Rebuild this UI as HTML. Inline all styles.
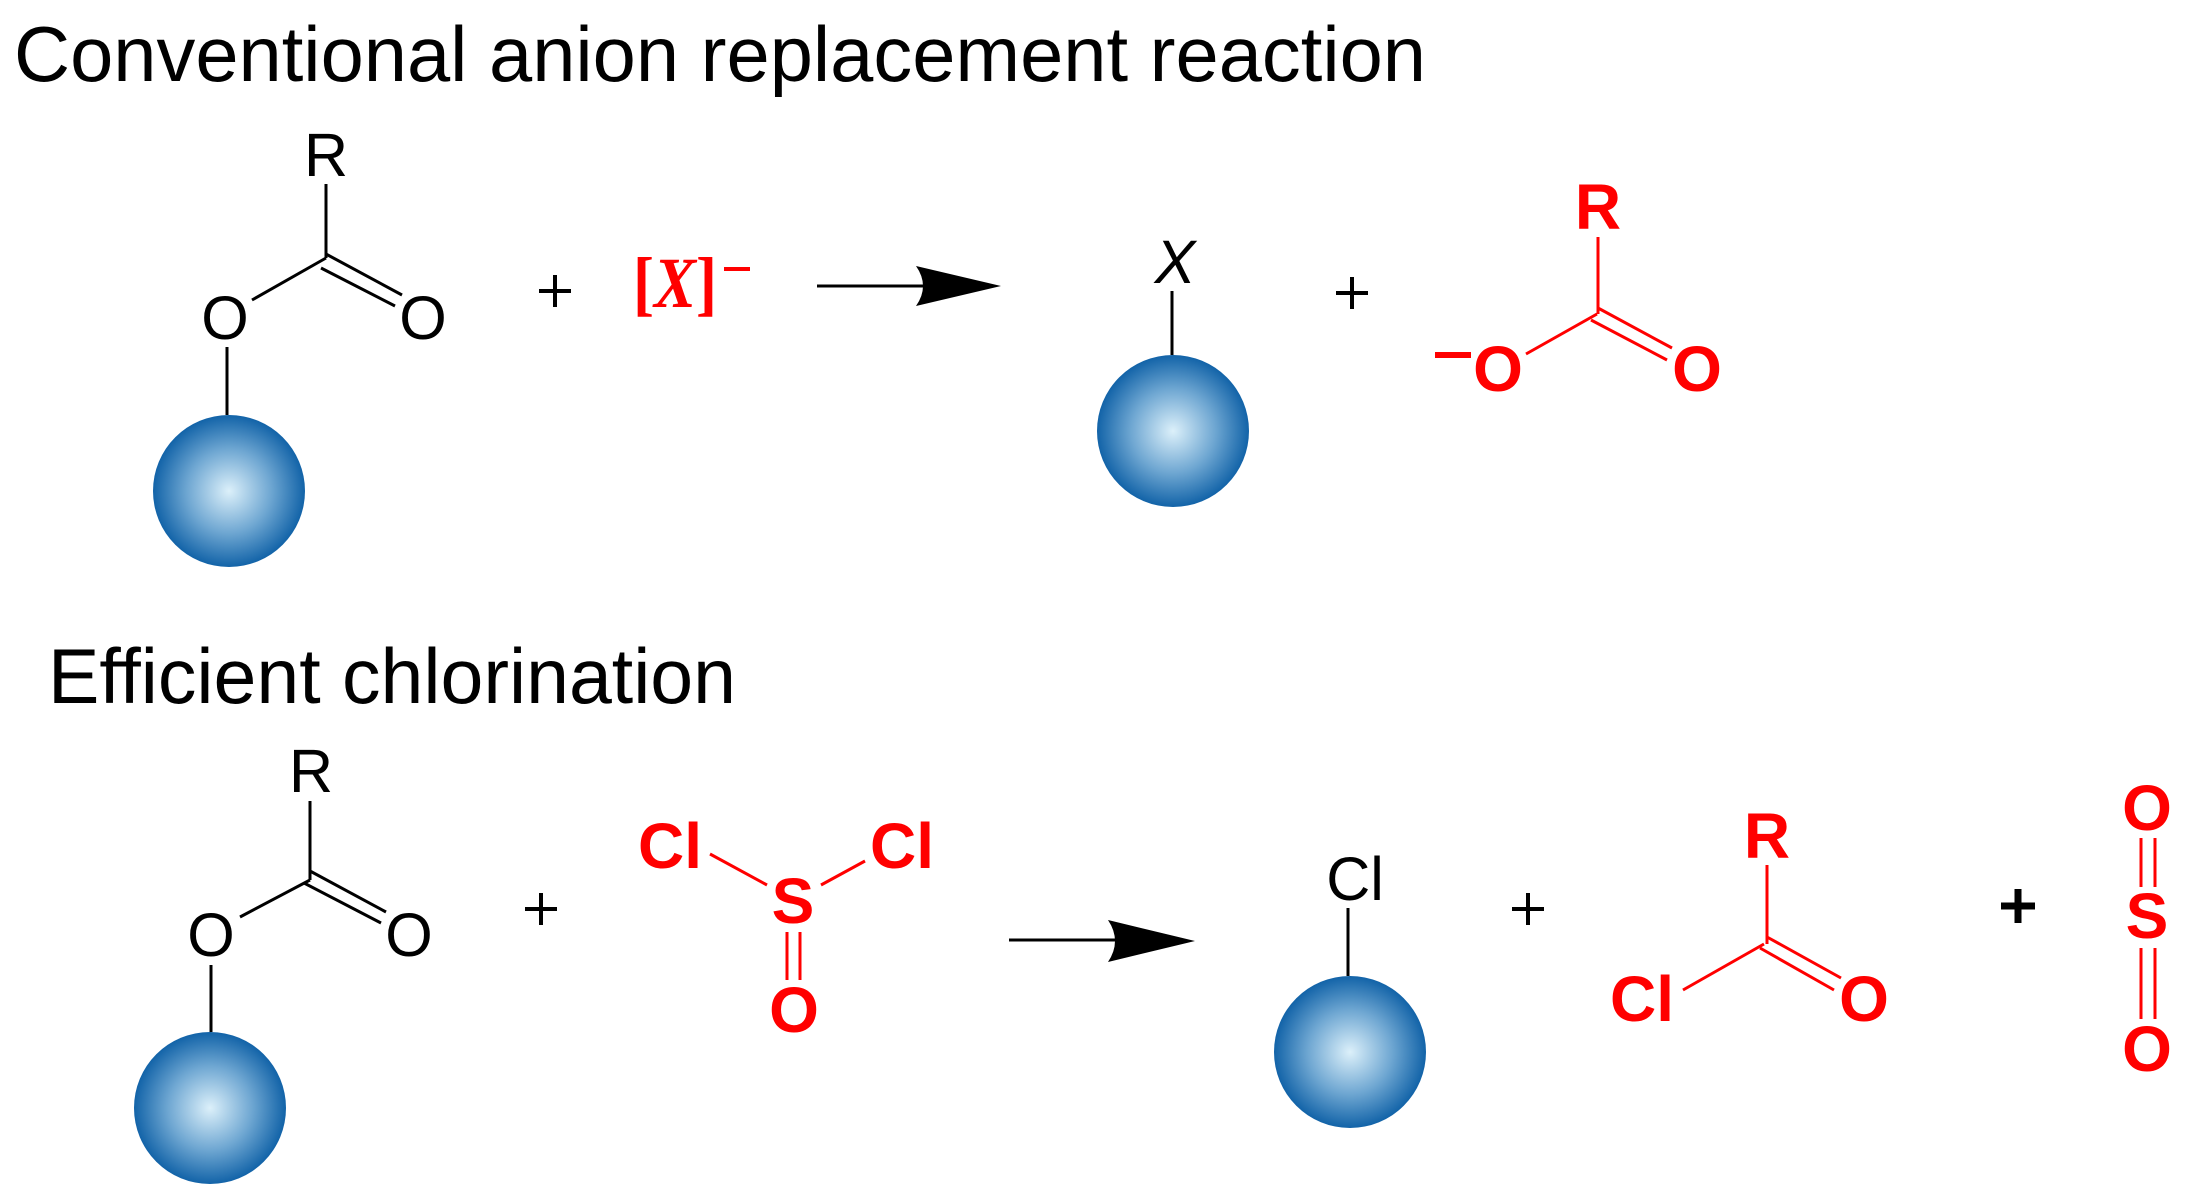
<!DOCTYPE html>
<html><head><meta charset="utf-8"><style>html,body{margin:0;padding:0;background:#fff}svg{display:block}</style></head>
<body>
<svg width="2210" height="1203" viewBox="0 0 2210 1203" xmlns="http://www.w3.org/2000/svg">
<defs>
<radialGradient id="g" cx="50%" cy="50%" r="50%">
<stop offset="0" stop-color="#dcf0fa"/><stop offset="0.55" stop-color="#6fa7d2"/><stop offset="1" stop-color="#1263a8"/>
</radialGradient>
</defs>
<g font-family="Liberation Sans, sans-serif">
<text x="14" y="81" font-size="78" textLength="1412" lengthAdjust="spacingAndGlyphs">Conventional anion replacement reaction</text>
<text x="48" y="703" font-size="78" textLength="688" lengthAdjust="spacingAndGlyphs">Efficient chlorination</text>

<g stroke="#000" stroke-width="3" fill="none">
<line x1="326" y1="184" x2="326" y2="258"/>
<line x1="326" y1="258" x2="252" y2="300"/>
<line x1="326" y1="254" x2="402" y2="295"/>
<line x1="321" y1="268" x2="395" y2="306"/>
<line x1="227" y1="347" x2="227" y2="415"/>
<line x1="817" y1="286" x2="930" y2="286"/>
<line x1="1172" y1="291" x2="1172" y2="355"/>
<line x1="310" y1="801" x2="310" y2="880"/>
<line x1="310" y1="880" x2="240" y2="917"/>
<line x1="310" y1="871" x2="386" y2="912"/>
<line x1="304" y1="883" x2="381" y2="923"/>
<line x1="211" y1="965" x2="211" y2="1032"/>
<line x1="1009" y1="940" x2="1120" y2="940"/>
<line x1="1348" y1="908" x2="1348" y2="976"/>
</g>
<g font-size="61" text-anchor="middle">
<text x="326" y="176">R</text>
<text x="225" y="339">O</text>
<text x="423" y="339">O</text>
<text x="311" y="792">R</text>
<text x="211" y="956">O</text>
<text x="409" y="956">O</text>
<text x="1355" y="900">Cl</text>
<text x="1175" y="283" font-style="italic">X</text>
</g>
<g stroke="#000" stroke-width="4">
<line x1="539" y1="291" x2="571" y2="291"/><line x1="555" y1="275" x2="555" y2="307"/>
<line x1="1336" y1="293" x2="1368" y2="293"/><line x1="1352" y1="277" x2="1352" y2="309"/>
<line x1="525" y1="909" x2="557" y2="909"/><line x1="541" y1="893" x2="541" y2="925"/>
<line x1="1512" y1="909" x2="1544" y2="909"/><line x1="1528" y1="893" x2="1528" y2="925"/>
<line x1="2001" y1="906" x2="2035" y2="906" stroke-width="7"/><line x1="2018" y1="889" x2="2018" y2="923" stroke-width="7"/>
</g>
<path d="M1001,286 L916,266 Q930,286 916,306 Z" fill="#000"/>
<path d="M1195,941 L1108,920 Q1122,941 1108,962 Z" fill="#000"/>

<circle cx="229" cy="491" r="76" fill="url(#g)"/>
<circle cx="1173" cy="431" r="76" fill="url(#g)"/>
<circle cx="210" cy="1108" r="76" fill="url(#g)"/>
<circle cx="1350" cy="1052" r="76" fill="url(#g)"/>

<text x="633" y="307" font-family="Liberation Serif, serif" font-size="72" font-weight="bold" fill="#f00" textLength="84" lengthAdjust="spacingAndGlyphs">[<tspan font-style="italic">X</tspan>]</text>
<line x1="724" y1="269" x2="750" y2="269" stroke="#f00" stroke-width="4"/>

<g stroke="#f00" stroke-width="3" fill="none">
<line x1="1598" y1="237" x2="1598" y2="314"/>
<line x1="1597" y1="314" x2="1526" y2="354"/>
<line x1="1598" y1="308" x2="1672" y2="348"/>
<line x1="1591" y1="320" x2="1667" y2="360"/>
<line x1="710" y1="854" x2="767" y2="885"/>
<line x1="821" y1="885" x2="865" y2="861"/>
<line x1="787" y1="932" x2="787" y2="980"/>
<line x1="800" y1="932" x2="800" y2="980"/>
<line x1="1767" y1="865" x2="1767" y2="944"/>
<line x1="1764" y1="944" x2="1683" y2="990"/>
<line x1="1767" y1="937" x2="1841" y2="978"/>
<line x1="1760" y1="948" x2="1834" y2="990"/>
<line x1="2141" y1="838" x2="2141" y2="887"/>
<line x1="2155" y1="838" x2="2155" y2="887"/>
<line x1="2141" y1="948" x2="2141" y2="1019"/>
<line x1="2155" y1="948" x2="2155" y2="1019"/>
</g>
<line x1="1435" y1="355" x2="1471" y2="355" stroke="#f00" stroke-width="6"/>
<g font-size="64" font-weight="bold" fill="#f00" text-anchor="middle">
<text x="1598" y="229">R</text>
<text x="1498" y="391">O</text>
<text x="1697" y="391">O</text>
<text x="670" y="868">Cl</text>
<text x="902" y="868">Cl</text>
<text x="793" y="923">S</text>
<text x="794" y="1032">O</text>
<text x="1767" y="858">R</text>
<text x="1642" y="1021">Cl</text>
<text x="1864" y="1021">O</text>
<text x="2147" y="830">O</text>
<text x="2147" y="938">S</text>
<text x="2147" y="1071">O</text>
</g>
</g>
</svg>
</body></html>
